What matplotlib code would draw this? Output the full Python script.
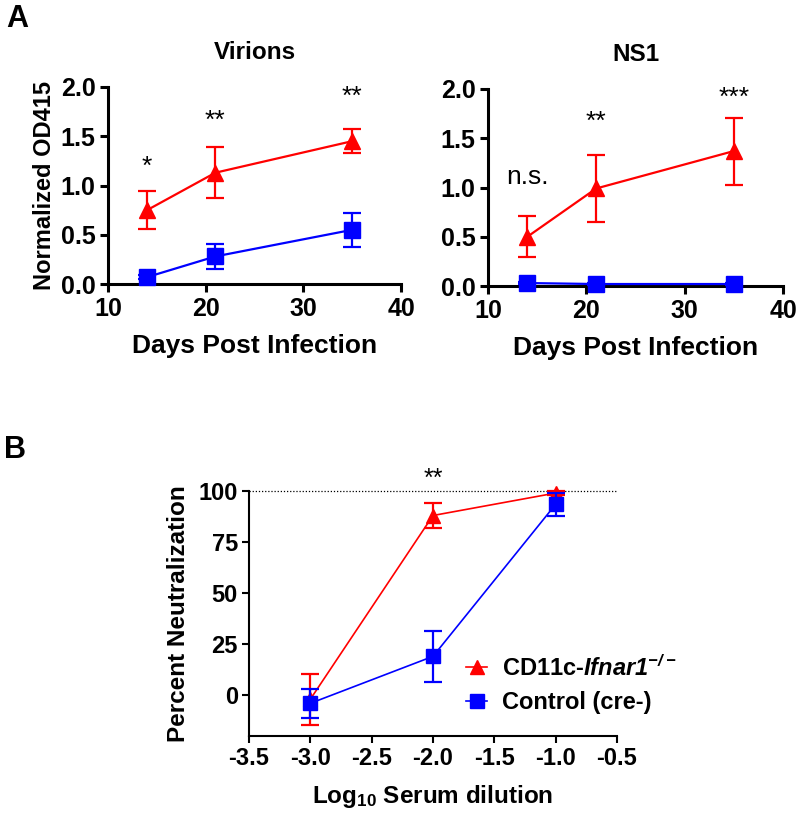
import matplotlib
matplotlib.use("Agg")
import matplotlib.pyplot as plt
from matplotlib.lines import Line2D

plt.rcParams['font.family'] = ['Liberation Sans', 'DejaVu Sans']
plt.rcParams['mathtext.fontset'] = 'custom'
plt.rcParams['mathtext.rm'] = 'Liberation Sans:bold:italic'
plt.rcParams['mathtext.it'] = 'Liberation Sans:bold:italic'
plt.rcParams['mathtext.bf'] = 'Liberation Sans:bold'
plt.rcParams['mathtext.sf'] = 'Liberation Sans:bold'

RED = '#ff0000'
BLUE = '#0000ff'

# Panel A data
days = [14, 21, 35]
vir_ko = [0.75, 1.13, 1.45]
vir_ko_err = [0.19, 0.26, 0.12]
vir_ctl = [0.07, 0.28, 0.55]
vir_ctl_err = [0.02, 0.13, 0.17]
vir_sig = ['*', '**', '**']
vir_sig_y = [1.19, 1.66, 1.90]

ns1_ko = [0.50, 0.99, 1.37]
ns1_ko_err = [0.21, 0.34, 0.34]
ns1_ctl = [0.03, 0.02, 0.02]
ns1_ctl_err = [0.01, 0.01, 0.01]
ns1_sig = ['n.s.', '**', '***']
ns1_sig_y = [1.11, 1.67, 1.91]

# Panel B data
log_dil = [-3.0, -2.0, -1.0]
neut_ko = [-2, 88, 99]
neut_ko_err = [12.5, 6, 1]
neut_ctl = [-4, 19, 93.5]
neut_ctl_err = [7, 12.5, 5.5]
neut_sig = ['', '**', '']
neut_sig_y = [106, 106, 106]

W, H = 800, 814
fig = plt.figure(figsize=(8, 8.14), dpi=100)

def ax_at(l, r, t, b):
    return fig.add_axes([l / W, 1 - b / H, (r - l) / W, (b - t) / H])

def style_A(ax):
    for s in ['top', 'right']:
        ax.spines[s].set_visible(False)
    for s in ['left', 'bottom']:
        ax.spines[s].set_linewidth(2.2)
    ax.tick_params(width=2.2, length=6, labelsize=18, pad=3)
    for lab in ax.get_xticklabels() + ax.get_yticklabels():
        lab.set_fontweight('bold')

def panelA(ax, ko, koe, ctl, ctle, sig, sigy, title, ylabel):
    ax.errorbar(days, ko, yerr=koe, color=RED, marker='^', markersize=11,
                lw=1.6, capsize=6.5, capthick=1.6, elinewidth=1.6, clip_on=False, zorder=3)
    ax.errorbar(days, ctl, yerr=ctle, color=BLUE, marker='s', markersize=11,
                lw=1.6, capsize=6.5, capthick=1.6, elinewidth=1.6, clip_on=False, zorder=3)
    ax.set_xlim(10, 40)
    ax.set_ylim(0, 2.0)
    ax.set_xticks([10, 20, 30, 40])
    ax.set_yticks([0, 0.5, 1.0, 1.5, 2.0])
    ax.set_yticklabels(['0.0', '0.5', '1.0', '1.5', '2.0'])
    style_A(ax)
    ax.set_title(title, fontsize=17.5, fontweight='bold', pad=20)
    ax.set_xlabel('Days Post Infection', fontsize=19, fontweight='bold', labelpad=10)
    if ylabel:
        ax.set_ylabel(ylabel, fontsize=17, fontweight='bold', labelpad=3)
    for d, s, y in zip(days, sig, sigy):
        ax.text(d, y, s, ha='center', va='center', fontsize=19)

ax1 = ax_at(108, 401, 87, 284)
panelA(ax1, vir_ko, vir_ko_err, vir_ctl, vir_ctl_err, vir_sig, vir_sig_y,
       'Virions', 'Normalized OD415')
ax2 = ax_at(488, 783, 89, 286)
panelA(ax2, ns1_ko, ns1_ko_err, ns1_ctl, ns1_ctl_err, ns1_sig, ns1_sig_y,
       'NS1', None)

# Panel B
ax3 = ax_at(249, 617, 491, 736)
ax3.axhline(100, color='black', lw=0.9, ls=(0, (1, 1.5)), zorder=1, clip_on=False)
ax3.errorbar(log_dil, neut_ko, yerr=neut_ko_err, color=RED, marker='^', markersize=10,
             lw=1.2, capsize=6.5, capthick=1.6, elinewidth=1.6, clip_on=False, zorder=3)
ax3.errorbar(log_dil, neut_ctl, yerr=neut_ctl_err, color=BLUE, marker='s', markersize=10,
             lw=1.2, capsize=6.5, capthick=1.6, elinewidth=1.6, clip_on=False, zorder=4)
ax3.set_xlim(-3.5, -0.5)
ax3.set_ylim(-20, 100)
ax3.set_xticks([-3.5, -3.0, -2.5, -2.0, -1.5, -1.0, -0.5])
ax3.set_xticklabels(['-3.5', '-3.0', '-2.5', '-2.0', '-1.5', '-1.0', '-0.5'])
ax3.set_yticks([0, 25, 50, 75, 100])
for s in ['top', 'right']:
    ax3.spines[s].set_visible(False)
for s in ['left', 'bottom']:
    ax3.spines[s].set_linewidth(1.5)
ax3.tick_params(width=1.5, length=5, labelsize=17, pad=3)
for lab in ax3.get_xticklabels() + ax3.get_yticklabels():
    lab.set_fontweight('bold')
ax3.set_xlabel(r'Log$_{\mathsf{10}}$ Serum dilution', fontsize=17.5, fontweight='bold', labelpad=9)
ax3.set_ylabel('Percent Neutralization', fontsize=17.5, fontweight='bold', labelpad=6)
for x, s, y in zip(log_dil, neut_sig, neut_sig_y):
    if s:
        ax3.text(x, y, s, ha='center', va='center', fontsize=18)

handles = [Line2D([], [], color=RED, marker='^', markersize=10, lw=1.2),
           Line2D([], [], color=BLUE, marker='s', markersize=10, lw=1.2)]
labels = [r'CD11c-$\mathit{Ifnar1}^{-/-}$', 'Control (cre-)']
leg = ax3.legend(handles, labels, loc='center left', bbox_to_anchor=(0.59, 0.21),
                 frameon=False, fontsize=17, handlelength=0.9, handletextpad=0.6,
                 labelspacing=0.45, borderaxespad=0, borderpad=0)
for t in leg.get_texts():
    t.set_fontweight('bold')

fig.text(6 / W, 1 - 19 / H, 'A', fontsize=22, fontweight='bold', va='center')
fig.text(4 / W, 1 - 450 / H, 'B', fontsize=22, fontweight='bold', va='center')

fig.savefig('out.png', dpi=100)
